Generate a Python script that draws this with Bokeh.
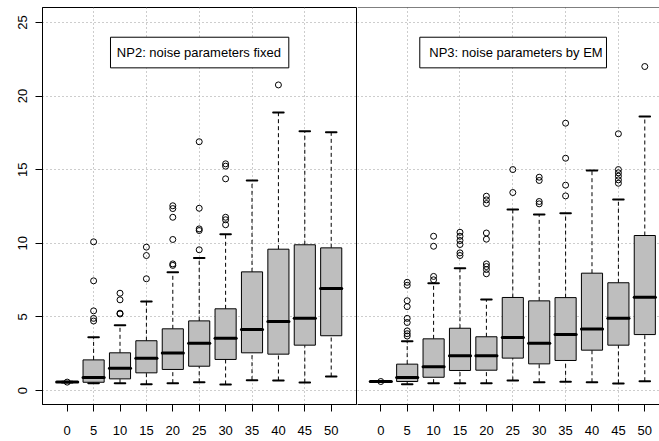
import numpy as np
from bokeh.plotting import figure
from bokeh.models import Range1d, FixedTicker, Label, Span, Grid, ColumnDataSource
from bokeh.layouts import row
from bokeh.embed import file_html
from bokeh.resources import INLINE

# ---------------- data ----------------
categories = ["0", "5", "10", "15", "20", "25", "30", "35", "40", "45", "50"]
y_ticks = [0, 5, 10, 15, 20, 25]

np2_title = "NP2: noise parameters fixed"
np2_lo  = [0.55, 0.50, 0.50, 0.43, 0.50, 0.56, 0.41, 0.70, 0.68, 0.54, 0.95]
np2_q1  = [0.56, 0.56, 0.79, 1.20, 1.43, 1.65, 2.11, 2.56, 2.47, 3.08, 3.72]
np2_med = [0.57, 0.88, 1.52, 2.19, 2.54, 3.21, 3.55, 4.14, 4.69, 4.91, 6.93]
np2_q3  = [0.58, 2.08, 2.56, 3.38, 4.19, 4.73, 5.55, 8.06, 9.60, 9.90, 9.69]
np2_hi  = [0.59, 3.62, 4.44, 6.05, 8.04, 9.01, 10.62, 14.27, 18.88, 17.61, 17.55]
np2_out = [[0.57], [10.10, 7.45, 5.41, 4.90, 4.72], [6.61, 6.16, 5.25, 5.20],
           [9.74, 9.17, 7.59], [12.55, 12.36, 11.77, 10.26, 8.60, 8.50],
           [16.90, 12.38, 10.98, 10.87, 9.56], [15.40, 15.24, 14.38, 11.77, 11.60, 11.26],
           [], [20.76], [], []]

np3_title = "NP3: noise parameters by EM"
np3_lo  = [0.59, 0.43, 0.50, 0.50, 0.50, 0.68, 0.56, 0.59, 0.56, 0.48, 0.63]
np3_q1  = [0.60, 0.61, 0.90, 1.36, 1.38, 2.20, 1.81, 2.04, 2.74, 3.08, 3.80]
np3_med = [0.61, 0.88, 1.61, 2.36, 2.36, 3.60, 3.21, 3.80, 4.17, 4.91, 6.34]
np3_q3  = [0.62, 1.79, 3.51, 4.23, 3.65, 6.32, 6.09, 6.31, 7.97, 7.32, 10.53]
np3_hi  = [0.63, 3.35, 7.29, 8.31, 6.18, 12.30, 11.96, 12.05, 14.95, 12.98, 18.61]
np3_out = [[0.61], [7.35, 7.15, 6.10, 5.70, 4.90, 4.62, 4.05, 3.86, 3.70],
           [10.48, 9.80, 7.75, 7.52], [10.75, 10.48, 10.19, 9.92, 9.35, 9.17],
           [13.20, 12.95, 12.70, 10.70, 10.28, 8.60, 8.42, 8.22, 7.93],
           [15.01, 13.45], [14.49, 14.27, 12.84, 12.68], [18.16, 15.78, 13.95, 13.22],
           [], [17.44, 15.01, 14.79, 14.56, 14.31, 14.08], [22.01]]

# ---------------- layout / style ----------------
FONT = "Liberation Sans"
BOX_HALF = 0.4
STAPLE_HALF = 0.2
H = 441
yr = Range1d(-0.951, 26.02)


def panel(lo, q1, med, q3, hi, outl, title, width, xr, left_axis, box_x, text_x):
    kw = dict(width=width, height=H, x_range=xr, y_range=yr, output_backend="svg",
              toolbar_location=None, min_border_top=7, min_border_bottom=37,
              min_border_right=1 if left_axis else 0,
              min_border_left=42 if left_axis else 0,
              background_fill_color="white", border_fill_color="white")
    if not left_axis:
        kw["y_axis_location"] = None
    p = figure(**kw)
    p.grid.visible = False
    if left_axis:
        p.outline_line_color = "black"
    else:
        p.outline_line_color = None
        p.add_layout(Span(location=yr.end, dimension="width", line_color="black", line_width=1))

    for g in (Grid(dimension=0, ticker=FixedTicker(ticks=[2, 4, 6, 8, 10])),
              Grid(dimension=1, ticker=FixedTicker(ticks=y_ticks))):
        g.grid_line_color = "#9a9a9a"
        g.grid_line_dash = "1 3"
        g.grid_line_width = 1
        p.add_layout(g, "center")

    x = np.arange(1, len(categories) + 1)
    src = ColumnDataSource(dict(x=x, lo=lo, q1=q1, med=med, q3=q3, hi=hi,
                                bl=x - BOX_HALF, br=x + BOX_HALF,
                                sl=x - STAPLE_HALF, sr=x + STAPLE_HALF))
    # whiskers
    p.segment(x0="x", y0="q3", x1="x", y1="hi", source=src, line_color="black",
              line_width=1, line_dash="4 3")
    p.segment(x0="x", y0="lo", x1="x", y1="q1", source=src, line_color="black",
              line_width=1, line_dash="4 3")
    # staples
    p.segment(x0="sl", y0="hi", x1="sr", y1="hi", source=src, line_color="black",
              line_width=2, line_cap="round")
    p.segment(x0="sl", y0="lo", x1="sr", y1="lo", source=src, line_color="black",
              line_width=2, line_cap="round")
    # boxes
    p.quad(left="bl", right="br", bottom="q1", top="q3", source=src,
           fill_color="#bebebe", line_color="black", line_width=1)
    # medians
    p.segment(x0="bl", y0="med", x1="br", y1="med", source=src, line_color="black",
              line_width=3, line_cap="round")
    # outliers
    ox = [i + 1 for i, vals in enumerate(outl) for _ in vals]
    oy = [v for vals in outl for v in vals]
    p.scatter(ox, oy, marker="circle", size=6, fill_color=None, line_color="black",
              line_width=1)

    # legend-like title box
    p.quad(left=[box_x[0]], right=[box_x[1]], bottom=[21.92], top=[24.0],
           fill_color="white", line_color="black", line_width=1)
    p.add_layout(Label(x=text_x, y=22.96, text=title, text_align="center",
                       text_baseline="middle", text_font=FONT,
                       text_font_size="13px", text_color="black"))

    # x axis
    ax = p.xaxis[0]
    ax.ticker = FixedTicker(ticks=list(x))
    ax.major_label_overrides = {int(i): c for i, c in zip(x, categories)}
    ax.minor_tick_line_color = None
    ax.major_tick_out = 7
    ax.major_tick_in = 0
    ax.major_label_standoff = 14
    ax.major_label_text_font = FONT
    ax.major_label_text_font_size = "13px"
    ax.major_label_text_color = "black"
    ax.axis_line_color = "black"
    ax.major_tick_line_color = "black"

    if left_axis:
        ay = p.yaxis[0]
        ay.ticker = FixedTicker(ticks=y_ticks)
        ay.minor_tick_line_color = None
        ay.major_tick_out = 7
        ay.major_tick_in = 0
        ay.major_label_standoff = 8
        ay.major_label_orientation = "vertical"
        ay.major_label_text_font = FONT
        ay.major_label_text_font_size = "13px"
        ay.major_label_text_color = "black"
        ay.axis_line_color = "black"
        ay.major_tick_line_color = "black"
    return p


p1 = panel(np2_lo, np2_q1, np2_med, np2_q3, np2_hi, np2_out, np2_title,
           357, Range1d(0.0644, 11.958), True, (2.640, 9.394), 5.987)
p2 = panel(np3_lo, np3_q1, np3_med, np3_q3, np3_hi, np3_out, np3_title,
           302, Range1d(0.1174, 11.557), False, (2.477, 9.549), 6.121)

layout = row(p1, p2)
open("out.html", "w").write(file_html(layout, INLINE))
